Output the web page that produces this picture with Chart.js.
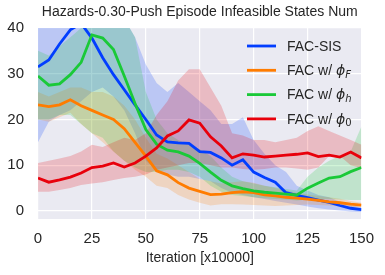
<!DOCTYPE html>
<html>
<head>
<meta charset="utf-8">
<script src="https://cdn.jsdelivr.net/npm/chart.js@4"></script>
<style>
  html, body { margin: 0; padding: 0; background: #fff; }
  #wrap { width: 385px; height: 275px; }
</style>
</head>
<body>
<div id="wrap"><canvas id="chart"></canvas></div>
<script>
const iterations = [0, 5, 10, 15, 20, 25, 30, 35, 40, 45, 50, 55, 60, 65, 70, 75, 80, 85, 90, 95, 100, 105, 110, 115, 120, 125, 130, 135, 140, 145, 150];

// FAC-SIS
const sisMean  = [31.5, 33, 36.5, 39.6, 41, 37.8, 33.5, 29.8, 26.5, 23.2, 20, 16.6, 15.1, 14.9, 14.8, 13, 12.8, 11.6, 10, 11.2, 8.5, 7.3, 6.3, 4.0, 3.4, 2.9, 2.4, 1.9, 1.2, 0.6, 0.3];
const sisUpper = [42, 42, 42, 42, 42, 42, 42, 42, 42, 38, 32, 28, 26, 28, 26, 24, 22, 19, 19, 20.5, 15.5, 12.5, 10, 8.5, 5.5, 4.5, 3.5, 3, 2, 1.3, 0.8];
const sisLower = [15, 19.5, 21, 22, 24, 26, 27, 25, 22, 17, 11, 9, 8, 7.5, 7.5, 7, 6.5, 5, 4, 3.5, 3, 2.6, 2.2, 1.8, 1.4, 1.0, 0.6, 0.3, 0.1, -0.1, -0.2];

// FAC w/ phi_F
const phiFMean  = [23.2, 22.8, 23.2, 24.3, 23, 22, 21, 20, 18, 15, 12, 8.8, 7.9, 6.2, 5.0, 4.3, 3.6, 3.7, 4.0, 4.2, 4.0, 3.5, 3.3, 3.0, 2.8, 2.6, 2.3, 2.0, 1.8, 1.5, 1.3];
const phiFUpper = [26, 25, 26, 27, 27, 26, 26, 25, 23, 20, 16, 12.5, 11.5, 10, 8.5, 7, 6.5, 6, 6.3, 6.5, 6.2, 5.5, 5.0, 4.5, 4, 3.6, 3.3, 3, 2.7, 2.2, 1.8];
const phiFLower = [20, 19.5, 20.5, 21.5, 19, 17, 15, 13, 11, 9, 7.5, 5.5, 5, 3.5, 2.5, 1.8, 1.2, 1.5, 1.5, 1.4, 1.3, 1.2, 1.1, 1.2, 1.3, 1.4, 1.3, 1.2, 1.0, 0.9, 0.8];

// FAC w/ phi_h
const phiHMean  = [29.5, 27.5, 27.8, 29.8, 32.5, 38.5, 37.8, 35.3, 29.5, 23.5, 17.8, 14.6, 13.3, 12.9, 12, 10.4, 8.5, 6.7, 5.5, 4.9, 4.4, 4.1, 3.9, 3.7, 3.5, 5.0, 6.1, 7.2, 7.5, 8.6, 9.5];
const phiHUpper = [35, 34, 36, 38, 40, 42, 42, 42, 42, 38, 26, 20, 17, 15.5, 14.5, 13.5, 12, 9.5, 7.5, 6.5, 6, 5.5, 5.2, 4.8, 4.5, 7.5, 9.5, 11, 12, 13, 18.5];
const phiHLower = [20, 20, 21, 21, 19, 17, 16, 13, 11, 9.5, 8.5, 8.5, 9, 9, 8.5, 7.5, 5.5, 4.2, 3.5, 3.3, 3, 2.8, 2.6, 2.5, 2.3, 2.5, 2.6, 2.6, 2.5, 2.4, 2.4];

// FAC w/ phi_0
const phi0Mean  = [7.2, 6.3, 6.8, 7.4, 8.3, 9.5, 9.8, 10.5, 9.6, 10.5, 12, 13.8, 16.4, 17.5, 19.9, 19.2, 16.2, 14.2, 11.6, 12.5, 12.2, 11.8, 12, 12.2, 12.4, 12.7, 11.9, 12.2, 11.8, 12.9, 11.6];
const phi0Upper = [10.5, 11, 11.5, 12, 13, 14.5, 14, 15, 16, 15.5, 17, 21, 24, 28.5, 31, 31, 27, 23, 17, 16.5, 15.5, 15.5, 15, 15.5, 16, 17.5, 18.5, 17.5, 16.5, 15.5, 14.5];
const phi0Lower = [4.2, 4.2, 4.6, 5, 5.7, 6, 6.3, 6.8, 7.2, 7.5, 8, 9, 9.5, 10, 10.5, 10.5, 10, 9.5, 9.5, 9.2, 9, 9.2, 9.5, 9.5, 9.3, 9, 9.5, 12, 12, 10, 9.4];

const labels = ["FAC-SIS", "FAC w/ ϕ_F", "FAC w/ ϕ_h", "FAC w/ ϕ_0"];
const colors = ["#023eff", "#ff7c00", "#1ac938", "#e8000b"];
const yTicks = [0, 10, 20, 30, 40];
const xTicks = [0, 25, 50, 75, 100, 125, 150];
const chartTitle = "Hazards-0.30-Push Episode Infeasible States Num";

const FONT = "'Liberation Sans', Arial, sans-serif";
const TEXT = "#262626";

function pts(arr) {
  return arr.map((v, i) => ({ x: iterations[i], y: v }));
}

function rgba(hex, a) {
  const n = parseInt(hex.slice(1), 16);
  return `rgba(${(n >> 16) & 255},${(n >> 8) & 255},${n & 255},${a})`;
}

const series = [
  [sisMean, sisUpper, sisLower],
  [phiFMean, phiFUpper, phiFLower],
  [phiHMean, phiHUpper, phiHLower],
  [phi0Mean, phi0Upper, phi0Lower]
];

const datasets = [];
// shaded bands first (drawn underneath)
series.forEach((s, i) => {
  datasets.push({
    data: pts(s[1]), borderWidth: 0, pointRadius: 0, fill: false,
    order: 20 + (3 - i), isBand: true
  });
  datasets.push({
    data: pts(s[2]), borderWidth: 0, pointRadius: 0,
    fill: "-1", backgroundColor: rgba(colors[i], 0.2),
    order: 20 + (3 - i), isBand: true
  });
});
// mean lines, red on top
series.forEach((s, i) => {
  datasets.push({
    label: labels[i], data: pts(s[0]),
    borderColor: colors[i], borderWidth: 2.8, pointRadius: 0,
    fill: false, order: 3 - i
  });
});

// grey plot background + title centred on the plot area
const plotBg = {
  id: "plotBg",
  beforeDraw(c) {
    const a = c.chartArea;
    const ctx = c.ctx;
    ctx.save();
    ctx.fillStyle = "#eaeaf2";
    ctx.fillRect(a.left, a.top, a.right - a.left, a.bottom - a.top);
    ctx.fillStyle = TEXT;
    ctx.font = `14px ${FONT}`;
    ctx.textAlign = "center";
    ctx.textBaseline = "middle";
    ctx.fillText(chartTitle, (a.left + a.right) / 2, 12);
    ctx.restore();
  }
};

// legend with subscripts (label "ϕ_F" -> ϕ with subscript F)
const subLegend = {
  id: "subLegend",
  afterDraw(c) {
    const ctx = c.ctx;
    const lines = c.data.datasets.filter(d => !d.isBand);
    ctx.save();
    lines.forEach((d, i) => {
      const y = 46 + i * 24.3;
      ctx.strokeStyle = d.borderColor;
      ctx.lineWidth = 2.8;
      ctx.beginPath();
      ctx.moveTo(247, y);
      ctx.lineTo(276, y);
      ctx.stroke();

      ctx.fillStyle = TEXT;
      ctx.textBaseline = "middle";
      let x = 287;
      const parts = d.label.split("_");
      const main = parts[0];
      const phiAt = main.indexOf("ϕ");
      const plain = phiAt >= 0 ? main.slice(0, phiAt) : main;
      ctx.font = `14px ${FONT}`;
      ctx.fillText(plain, x, y + 1);
      x += ctx.measureText(plain).width;
      if (phiAt >= 0) {
        ctx.font = "italic 14px 'DejaVu Sans'";
        ctx.fillText("ϕ", x, y + 1);
        x += ctx.measureText("ϕ").width;
      }
      if (parts[1]) {
        const isDigit = /[0-9]/.test(parts[1]);
        ctx.font = (isDigit ? "" : "italic ") + "10px 'DejaVu Sans'";
        ctx.fillText(parts[1], x, y + 5);
      }
    });
    ctx.restore();
  }
};

new Chart(document.getElementById("chart"), {
  type: "line",
  data: { datasets },
  options: {
    responsive: true,
    maintainAspectRatio: false,
    animation: false,
    layout: { padding: { left: 0, right: 21, top: 28, bottom: 0 } },
    plugins: {
      legend: { display: false },
      tooltip: { enabled: false },
      title: { display: false }
    },
    scales: {
      x: {
        type: "linear",
        min: 0, max: 150,
        afterBuildTicks: s => { s.ticks = xTicks.map(v => ({ value: v })); },
        afterFit: s => { s.height = 56; },
        grid: { color: "#ffffff", lineWidth: 1.2, drawTicks: false },
        border: { display: false },
        ticks: { color: TEXT, font: { family: FONT, size: 15 }, padding: 11, maxRotation: 0 },
        title: {
          display: true, text: "Iteration [x10000]", color: TEXT,
          font: { family: FONT, size: 14 }, padding: { top: 0, bottom: 8 }
        }
      },
      y: {
        min: -1.75, max: 40,
        afterBuildTicks: s => { s.ticks = yTicks.map(v => ({ value: v })); },
        afterFit: s => { s.width = 38; },
        grid: { color: "#ffffff", lineWidth: 1.2, drawTicks: false },
        border: { display: false },
        ticks: { color: TEXT, font: { family: FONT, size: 15 }, padding: 14 }
      }
    }
  },
  plugins: [plotBg, subLegend]
});
</script>
</body>
</html>
